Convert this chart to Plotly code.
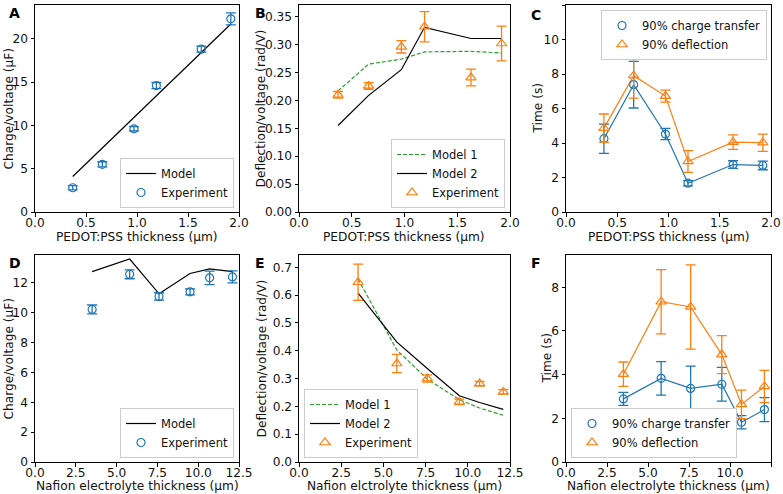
import plotly.graph_objects as go

# ---------------- data ----------------
pedot_x = [0.37, 0.66, 0.97, 1.19, 1.63, 1.92]
nafion_x = [3.5, 5.8, 7.6, 9.5, 10.7, 12.1]

# A
a_exp = [2.8, 5.5, 9.6, 14.6, 18.8, 22.3]
a_err = [0.25, 0.3, 0.25, 0.35, 0.35, 0.7]
a_model = [4.1, 7.4, 10.9, 13.4, 18.4, 21.7]

# B
b_exp = [0.210, 0.226, 0.296, 0.332, 0.241, 0.302]
b_err = [0.006, 0.006, 0.011, 0.027, 0.015, 0.031]
b_model1 = [0.217, 0.265, 0.274, 0.287, 0.288, 0.285]
b_model2 = [0.155, 0.209, 0.255, 0.331, 0.311, 0.311]

# C
c_charge = [4.25, 7.38, 4.52, 1.67, 2.75, 2.70]
c_charge_err = [0.85, 1.35, 0.33, 0.15, 0.22, 0.25]
c_defl = [4.86, 7.90, 6.72, 2.93, 4.05, 4.02]
c_defl_err = [0.82, 1.30, 0.35, 0.63, 0.42, 0.50]

# D
d_exp = [10.22, 12.58, 11.09, 11.40, 12.34, 12.40]
d_err = [0.3, 0.3, 0.25, 0.2, 0.45, 0.4]
d_model = [12.76, 13.6, 11.27, 12.63, 12.94, 12.76]

# E
e_exp = [0.646, 0.354, 0.300, 0.216, 0.282, 0.252]
e_err = [0.065, 0.033, 0.013, 0.010, 0.008, 0.008]
e_model1 = [0.658, 0.402, 0.298, 0.224, 0.194, 0.168]
e_model2 = [0.607, 0.431, 0.336, 0.238, 0.214, 0.189]

# F
f_charge = [2.89, 3.83, 3.37, 3.56, 1.82, 2.40]
f_charge_err = [0.30, 0.77, 1.02, 0.77, 0.30, 0.55]
f_defl = [4.02, 7.34, 7.10, 4.92, 2.64, 3.46]
f_defl_err = [0.56, 1.47, 1.93, 0.87, 0.65, 0.74]

xtitles = ["PEDOT:PSS thickness (µm)"] * 3 + ["Nafion electrolyte thickness (µm)",
                                              "Nafion elctrolyte thickness (µm)",
                                              "Nafion electrolyte thickness (µm)"]
ytitles = ["Charge/voltage (µF)", "Deflection/voltage (rad/V)", "Time (s)",
           "Charge/voltage (µF)", "Deflection/voltage (rad/V)", "Time (s)"]
panel_letters = ["A", "B", "C", "D", "E", "F"]

BLUE = "#1f77b4"
ORANGE = "#ff7f0e"
GREEN = "#2ca02c"
FONT = "DejaVu Sans"
FS = 12.2
TXT = "#111111"

W, H = 783, 494

fig = go.Figure()


def connect_trace(x, y, color, xa, ya):
    return go.Scatter(x=x, y=y, mode="lines", xaxis=xa, yaxis=ya, showlegend=False,
                      hoverinfo="skip", line=dict(color=color, width=1.2))


def err_trace(x, y, e, color, symbol, name, xa, ya, leg, size=8):
    return go.Scatter(
        x=x, y=y, name=name, mode="markers",
        xaxis=xa, yaxis=ya, legend=leg,
        marker=dict(symbol=symbol, size=size, color=color, line=dict(color=color, width=1.2)),
        error_y=dict(type="data", array=e, visible=True, color=color, thickness=1.3, width=5),
    )


def line_trace(x, y, color, dash, name, xa, ya, leg):
    return go.Scatter(x=x, y=y, name=name, mode="lines", xaxis=xa, yaxis=ya, legend=leg,
                      line=dict(color=color, width=1.2, dash=dash))


DASH = "4px,2px"

# A
fig.add_trace(line_trace(pedot_x, a_model, "black", "solid", "Model", "x", "y", "legend"))
fig.add_trace(err_trace(pedot_x, a_exp, a_err, BLUE, "circle-open", "Experiment", "x", "y", "legend"))
# B
fig.add_trace(line_trace(pedot_x, b_model1, GREEN, DASH, "Model 1", "x2", "y2", "legend2"))
fig.add_trace(line_trace(pedot_x, b_model2, "black", "solid", "Model 2", "x2", "y2", "legend2"))
fig.add_trace(err_trace(pedot_x, b_exp, b_err, ORANGE, "triangle-up-open", "Experiment", "x2", "y2", "legend2", size=9))
# C
fig.add_trace(connect_trace(pedot_x, c_charge, BLUE, "x3", "y3"))
fig.add_trace(connect_trace(pedot_x, c_defl, ORANGE, "x3", "y3"))
fig.add_trace(err_trace(pedot_x, c_charge, c_charge_err, BLUE, "circle-open", "90% charge transfer", "x3", "y3", "legend3"))
fig.add_trace(err_trace(pedot_x, c_defl, c_defl_err, ORANGE, "triangle-up-open", "90% deflection", "x3", "y3", "legend3", size=9))
# D
fig.add_trace(line_trace(nafion_x, d_model, "black", "solid", "Model", "x4", "y4", "legend4"))
fig.add_trace(err_trace(nafion_x, d_exp, d_err, BLUE, "circle-open", "Experiment", "x4", "y4", "legend4"))
# E
fig.add_trace(line_trace(nafion_x, e_model1, GREEN, DASH, "Model 1", "x5", "y5", "legend5"))
fig.add_trace(line_trace(nafion_x, e_model2, "black", "solid", "Model 2", "x5", "y5", "legend5"))
fig.add_trace(err_trace(nafion_x, e_exp, e_err, ORANGE, "triangle-up-open", "Experiment", "x5", "y5", "legend5", size=9))
# F
fig.add_trace(connect_trace(nafion_x, f_charge, BLUE, "x6", "y6"))
fig.add_trace(connect_trace(nafion_x, f_defl, ORANGE, "x6", "y6"))
fig.add_trace(err_trace(nafion_x, f_charge, f_charge_err, BLUE, "circle-open", "90% charge transfer", "x6", "y6", "legend6"))
fig.add_trace(err_trace(nafion_x, f_defl, f_defl_err, ORANGE, "triangle-up-open", "90% deflection", "x6", "y6", "legend6", size=9))


def px_x(p):
    return p / W


def px_y(p):
    return 1 - p / H


cols = [(35, 239), (299, 510), (566, 771)]
rows = [(5, 212), (255, 462)]

axis_common = dict(showline=True, linecolor="black", linewidth=1, mirror=True,
                   ticks="outside", ticklen=3.5, tickwidth=0.8, tickcolor="black",
                   showgrid=False, zeroline=False, automargin=False,
                   tickfont=dict(family=FONT, size=FS, color=TXT))

yranges = [[0, 23.9], [0, 0.371], [0, 12], [0, 13.87], [0, 0.744], [0, 9.48]]
ytickvals = [[0, 5, 10, 15, 20], [0, 0.05, 0.1, 0.15, 0.2, 0.25, 0.3, 0.35],
             [0, 2, 4, 6, 8, 10, 12], [0, 2, 4, 6, 8, 10, 12],
             [0, 0.1, 0.2, 0.3, 0.4, 0.5, 0.6, 0.7], [0, 2, 4, 6, 8]]
yfmt = [None, ".2f", None, None, ".1f", None]

# positions of titles (pixels)
xtitle_y = [237, 237, 237, 486, 486, 486]
ytitle_x = [8, 260, 537, 8, 261, 546]
letter_pos = [(15, 13), (260, 13), (536, 15), (15, 263), (260, 263), (536, 263)]

for i in range(6):
    r, c = divmod(i, 3)
    sfx = "" if i == 0 else str(i + 1)
    xd = [px_x(cols[c][0]), px_x(cols[c][1])]
    yd = [px_y(rows[r][1]), px_y(rows[r][0])]
    xr = [0, 2] if r == 0 else [0, 12.5]
    xtv = [0, 0.5, 1.0, 1.5, 2.0] if r == 0 else [0, 2.5, 5, 7.5, 10, 12.5]
    xa = dict(axis_common, domain=xd, range=xr, tickvals=xtv, tickformat=".1f",
              anchor="y" + sfx, ticklabelstandoff=-4)
    ya = dict(axis_common, domain=yd, range=yranges[i], tickvals=ytickvals[i],
              anchor="x" + sfx)
    if yfmt[i]:
        ya["tickformat"] = yfmt[i]
    fig.layout["xaxis" + sfx] = xa
    fig.layout["yaxis" + sfx] = ya

    # axis titles
    fig.add_annotation(text=xtitles[i], x=px_x((cols[c][0] + cols[c][1]) / 2), y=px_y(xtitle_y[i]),
                       xref="paper", yref="paper", showarrow=False, xanchor="center", yanchor="middle",
                       font=dict(family=FONT, size=FS, color=TXT))
    fig.add_annotation(text=ytitles[i], x=px_x(ytitle_x[i]), y=px_y((rows[r][0] + rows[r][1]) / 2),
                       xref="paper", yref="paper", showarrow=False, xanchor="center", yanchor="middle",
                       textangle=-90, font=dict(family=FONT, size=FS, color=TXT))
    lx, ly = letter_pos[i]
    fig.add_annotation(text="<b>%s</b>" % panel_letters[i], x=px_x(lx), y=px_y(ly),
                       xref="paper", yref="paper", showarrow=False, xanchor="center", yanchor="middle",
                       font=dict(family=FONT, size=14, color="black"))

leg_common = dict(bgcolor="white", bordercolor="#cccccc", borderwidth=1,
                  font=dict(family=FONT, size=11.5, color=TXT),
                  xref="paper", yref="paper", tracegroupgap=0, itemwidth=30)

fig.update_layout(
    legend=dict(leg_common, x=px_x(234), y=px_y(208), xanchor="right", yanchor="bottom"),
    legend2=dict(leg_common, x=px_x(505), y=px_y(208), xanchor="right", yanchor="bottom"),
    legend3=dict(leg_common, x=px_x(767), y=px_y(10), xanchor="right", yanchor="top"),
    legend4=dict(leg_common, x=px_x(234), y=px_y(458), xanchor="right", yanchor="bottom"),
    legend5=dict(leg_common, x=px_x(304), y=px_y(458), xanchor="left", yanchor="bottom"),
    legend6=dict(leg_common, x=px_x(571), y=px_y(458), xanchor="left", yanchor="bottom"),
)

fig.update_layout(width=W, height=H, margin=dict(l=0, r=0, t=0, b=0, autoexpand=False),
                  paper_bgcolor="white", plot_bgcolor="white",
                  font=dict(family=FONT, size=FS, color=TXT), showlegend=True)

fig.write_html("out.html", config={"displayModeBar": False},
               post_script="document.body.style.margin='0px';")
